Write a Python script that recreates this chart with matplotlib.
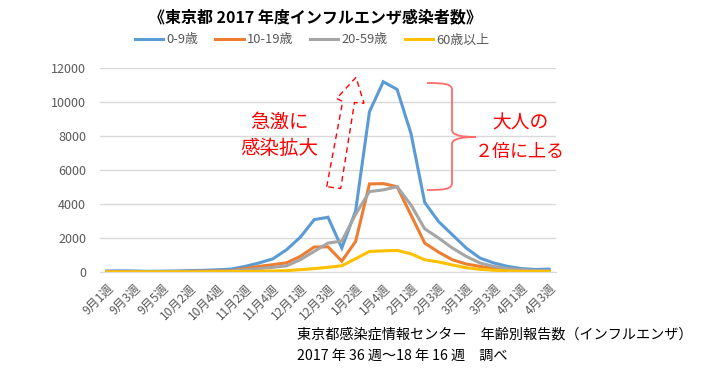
import matplotlib.pyplot as plt
import matplotlib.patches as mpatches
from matplotlib.path import Path
import numpy as np

plt.rcParams['font.family'] = ['Noto Sans CJK JP', 'DejaVu Sans']

tick_labels = ['9月1週', '9月3週', '9月5週', '10月2週', '10月4週', '11月2週', '11月4週',
               '12月1週', '12月3週', '1月2週', '1月4週', '2月1週', '2月3週', '3月1週',
               '3月3週', '4月1週', '4月3週']

age_0_9 = [60, 70, 60, 40, 50, 60, 80, 100, 130, 170, 330, 530, 770, 1310, 2050, 3080, 3220,
           1410, 3600, 9430, 11190, 10740, 8160, 4090, 2970, 2190, 1410, 820, 530, 330, 200, 150, 170]
age_10_19 = [20, 20, 20, 20, 20, 30, 40, 50, 60, 80, 200, 330, 430, 540, 920, 1470, 1480,
             640, 1800, 5180, 5200, 5020, 3360, 1700, 1170, 720, 470, 330, 200, 130, 80, 60, 50]
age_20_59 = [10, 10, 10, 10, 15, 20, 30, 40, 50, 70, 120, 200, 275, 360, 725, 1215, 1700,
             1820, 3400, 4730, 4830, 5020, 3950, 2540, 2000, 1410, 920, 530, 330, 200, 130, 90, 80]
age_60 = [5, 5, 5, 5, 5, 10, 10, 15, 20, 25, 30, 40, 60, 80, 137, 200, 275,
          370, 780, 1210, 1240, 1270, 1070, 720, 590, 415, 250, 160, 100, 60, 40, 30, 30]

series = [('0-9歳', age_0_9, '#5B9BD5'),
          ('10-19歳', age_10_19, '#ED7D31'),
          ('20-59歳', age_20_59, '#A5A5A5'),
          ('60歳以上', age_60, '#FFC000')]

W, H = 717, 374
fig = plt.figure(figsize=(W / 100, H / 100), dpi=100)
ax = fig.add_axes([100 / W, 1 - 272 / H, 456 / W, 204 / H])


def px(x, y):
    return (x / W, 1 - y / H)


x = np.arange(len(age_0_9))
handles = []
for name, vals, col in series:
    h, = ax.plot(x, vals, color=col, lw=2.2, label=name, solid_joinstyle='miter')
    handles.append(h)

ax.set_xlim(-0.5, len(x) - 0.5)
ax.set_ylim(0, 12000)
ax.set_yticks(range(0, 12001, 2000))
ax.grid(axis='y', color='#D9D9D9', lw=1)
ax.set_axisbelow(True)
for s in ['top', 'right', 'left']:
    ax.spines[s].set_visible(False)
ax.spines['bottom'].set_color('#D9D9D9')
ax.tick_params(axis='y', length=0, pad=10, labelsize=9, labelcolor='#595959')
ax.set_xticks(range(0, len(x), 2))
ax.set_xticklabels(tick_labels, rotation=45, ha='right', rotation_mode='anchor',
                   fontsize=8.7, color='#595959')
ax.tick_params(axis='x', length=0, pad=7)

fig.text(315 / W, 1 - 17 / H, '《東京都 2017 年度インフルエンザ感染者数》', ha='center', va='center',
         fontsize=11.5, fontweight='bold', color='black')
fig.legend(handles=handles, loc='center', bbox_to_anchor=(312 / W, 1 - 40 / H), ncol=4,
           frameon=False, fontsize=9.3, handlelength=2.2, handletextpad=0.25,
           columnspacing=1.3, labelcolor='#595959')

# 注釈
fig.text(*px(279, 122), '急激に', ha='center', va='center', fontsize=14, color='red')
fig.text(*px(279, 149), '感染拡大', ha='center', va='center', fontsize=14, color='red')
fig.text(*px(520, 123), '大人の', ha='center', va='center', fontsize=13.5, color='red')
fig.text(*px(520, 152), '２倍に上る', ha='center', va='center', fontsize=13, color='red')

arrow_pts = [(326.7, 186.7), (342.7, 101.5), (336.7, 98.5), (356, 77.3),
             (364, 103.3), (354.5, 102.5), (340.7, 188.5)]
fig.patches.append(mpatches.Polygon([px(a, b) for a, b in arrow_pts], closed=True, fill=False,
                                    ec='red', lw=1, ls=(0, (4, 3)), transform=fig.transFigure))

brace = [(427, 83), (445, 83), (452, 84), (452, 90), (452, 130), (452, 136), (465, 137),
         (476, 137), (465, 137), (452, 138), (452, 144), (452, 183), (452, 189), (445, 190),
         (427, 190)]
codes = [Path.MOVETO, Path.CURVE4, Path.CURVE4, Path.CURVE4, Path.LINETO, Path.CURVE4,
         Path.CURVE4, Path.CURVE4, Path.CURVE4, Path.CURVE4, Path.CURVE4, Path.LINETO,
         Path.CURVE4, Path.CURVE4, Path.CURVE4]
fig.patches.append(mpatches.PathPatch(Path([px(a, b) for a, b in brace], codes), fill=False,
                                      ec='#FF6B6B', lw=1.3, transform=fig.transFigure))

fig.text(*px(297, 335), '東京都感染症情報センター　年齢別報告数（インフルエンザ）',
         ha='left', va='center', fontsize=10.2, color='black')
fig.text(*px(297, 356), '2017 年 36 週～18 年 16 週　調べ',
         ha='left', va='center', fontsize=10.2, color='black')

fig.savefig('out.png', dpi=100, facecolor='white')
